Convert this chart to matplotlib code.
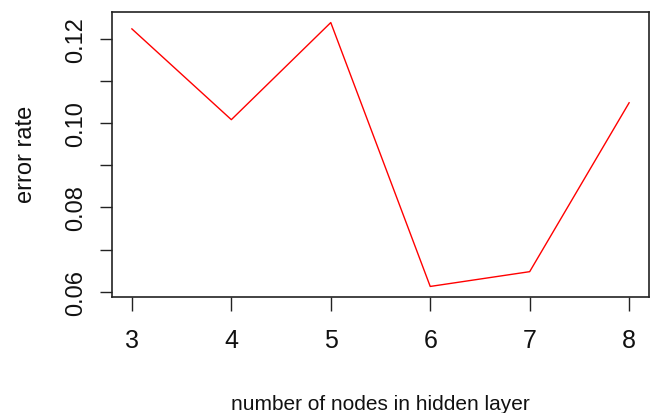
import numpy as np
import matplotlib
matplotlib.use('Agg')
import matplotlib.pyplot as plt
from matplotlib.ticker import FixedLocator, FuncFormatter

plt.rcParams['font.family'] = 'Liberation Sans'

# hidden layer size vs. error rate
nodes = [3, 4, 5, 6, 7, 8]
error_rate = [0.1223, 0.1008, 0.1238, 0.0613, 0.0648, 0.1048]

fig = plt.figure(figsize=(6.56, 4.14), dpi=100)
ax = fig.add_axes([112/656, 116/414, 537/656, 285/414])

ax.plot(nodes, error_rate, color='red', lw=1.0)

# R-style 4% padding on both axes
span_x = max(nodes) - min(nodes)
span_y = max(error_rate) - min(error_rate)
ax.set_xlim(min(nodes) - 0.04*span_x, max(nodes) + 0.04*span_x)
ax.set_ylim(min(error_rate) - 0.04*span_y, max(error_rate) + 0.04*span_y)

ax.xaxis.set_major_locator(FixedLocator(nodes))
yt = np.round(np.arange(0.06, 0.1201, 0.01), 2)
ax.yaxis.set_major_locator(FixedLocator(yt))
ax.yaxis.set_major_formatter(FuncFormatter(
    lambda v, p: '%.2f' % v if round(v*100) % 2 == 0 else ''))

for s in ax.spines.values():
    s.set_linewidth(1.2)
    s.set_color('#222222')

ax.tick_params(axis='x', length=10, width=1.0, pad=12, labelsize=18,
               color='#222222', labelcolor='#111111')
ax.tick_params(axis='y', length=9, width=1.0, pad=9, labelsize=17,
               color='#222222', labelcolor='#111111', labelrotation=90)
for lab in ax.get_yticklabels():
    lab.set_va('center')

fig.text(380/656, 4/414, 'number of nodes in hidden layer', ha='center',
         va='baseline', fontsize=15, color='#111111')
fig.text(26/656, 1 - 154.5/414, 'error rate', ha='center', va='center',
         rotation=90, fontsize=17, color='#111111')

fig.savefig('out.png', dpi=100)
